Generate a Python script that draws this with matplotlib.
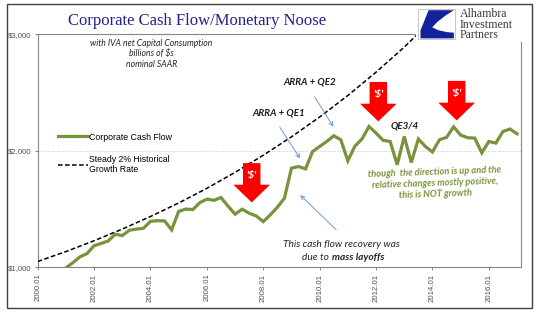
import matplotlib
matplotlib.use("Agg")
import matplotlib.pyplot as plt
from matplotlib.patches import Polygon, Rectangle
import pandas as pd

# Corporate cash flow with IVA net of capital consumption, $bn SAAR, 2000Q1 - 2017Q1
quarters = pd.period_range("2000Q1", "2017Q1", freq="Q")
cash_flow = [930, 920, 915, 950,
             995, 1040, 1090, 1118,
             1185, 1205, 1226, 1284,
             1272, 1318, 1328, 1335,
             1395, 1400, 1398, 1321,
             1480, 1500, 1495, 1555,
             1585, 1575, 1599, 1525,
             1456, 1499, 1464, 1441,
             1392, 1450, 1516, 1593,
             1851, 1865, 1845, 1994,
             2037, 2080, 2129, 2095,
             1914, 2040, 2101, 2209,
             2152, 2090, 2080, 1880,
             2123, 1900, 2101, 2037,
             1990, 2095, 2115, 2206,
             2135, 2112, 2109, 1983,
             2080, 2066, 2166, 2187,
             2146]

# steady growth trend line, read at each January
trend_years = [2000, 2001, 2002, 2003, 2004, 2005, 2006, 2007,
               2008, 2009, 2010, 2011, 2012, 2013, 2014]
trend_values = [1050, 1135, 1228, 1328, 1436, 1552, 1678, 1815,
                1962, 2120, 2290, 2475, 2675, 2890, 3125]

tick_labels = ["2000.01", "2002.01", "2004.01", "2006.01", "2008.01",
               "2010.01", "2012.01", "2014.01", "2016.01"]
y_ticks = [1000, 2000, 3000]

# red "$" arrows: centre year, top, head start, tip
red_arrows = [(2007.59, 1894, 1709, 1557),
              (2012.08, 2591, 2404, 2253),
              (2014.86, 2600, 2413, 2261)]

GREEN = "#77933C"
BLUE_TXT = "#23238E"
GRAY = "#868686"

x_q = [p.year + (p.quarter - 1) / 4 for p in quarters]

fig = plt.figure(figsize=(5.4, 3.21), dpi=100)
W, H = 540, 321
ax = fig.add_axes([37.7 / W, 1 - 267.3 / H, (520.7 - 37.7) / W, (267.3 - 34.3) / H])

ax.plot(x_q, cash_flow, color=GREEN, lw=2.3, solid_joinstyle="miter",
        label="Corporate Cash Flow", zorder=4)
ax.plot(trend_years, trend_values, color="black", lw=1.1, ls=(0, (3, 1.6)),
        label="Steady 2% Historical\nGrowth Rate", zorder=3)

ax.set_xlim(2000, 2017.13)
ax.set_ylim(1000, 3000)
ax.set_xticks([int(t[:4]) for t in tick_labels])
ax.set_xticklabels(tick_labels, rotation=90, family="Liberation Sans",
                   fontsize=5.6, color="#505050")
ax.set_yticks(y_ticks)
ax.set_yticklabels(["${:,.0f}".format(v) for v in y_ticks],
                   family="Liberation Sans", fontsize=5.6, color="#505050")
ax.tick_params(axis="both", direction="out", length=2.3, width=0.7,
               color=GRAY, pad=2.2)
ax.axhline(2000, color="#C8C8C8", lw=0.7, ls=(0, (1, 1.5)), zorder=1)
for s in ax.spines.values():
    s.set_color(GRAY)
    s.set_linewidth(0.8)

leg = ax.legend(loc="upper left", bbox_to_anchor=(58 / W, 1 - 132.5 / H),
                bbox_transform=fig.transFigure, frameon=False,
                prop={"family": "Liberation Sans", "size": 6.3},
                handlelength=3.4, handletextpad=0.15, labelspacing=1.5,
                borderpad=0, borderaxespad=0)

# red arrows
for cx, top, head, tip in red_arrows:
    sw, hw = 0.31, 0.65
    pts = [(cx - sw, top), (cx + sw, top), (cx + sw, head), (cx + hw, head),
           (cx, tip), (cx - hw, head), (cx - sw, head)]
    ax.add_patch(Polygon(pts, closed=True, color="#FF0000", lw=0, zorder=6))
    ax.text(cx, (top + head) / 2 - 12, "'$'", color="white", fontsize=7.5,
            family="Lato", weight="bold", style="italic",
            ha="center", va="center", zorder=7)

sans = "Lato"
ax.text(2004.04, 2834, "with IVA net Capital Consumption\nbillions of $s\nnominal SAAR",
        ha="center", va="center", fontsize=6.2, style="italic", family=sans,
        color="#262626", linespacing=1.2)
ax.text(2009.66, 2588, "ARRA + QE2", ha="center", va="center", fontsize=7,
        style="italic", weight="bold", family=sans, color="#1a1a1a")
ax.text(2008.56, 2324, "ARRA + QE1", ha="center", va="center", fontsize=7,
        style="italic", weight="bold", family=sans, color="#1a1a1a")
ax.text(2013.02, 2209, "QE3/4", ha="center", va="center", fontsize=7,
        style="italic", weight="bold", family=sans, color="#1a1a1a")
ax.text(2010.76, 1198, "This cash flow recovery was", ha="center", va="center",
        fontsize=7.3, style="italic", family=sans, color="#262626")
ax.text(2010.42, 1080, "due to ", ha="right", va="center",
        fontsize=7.3, style="italic", family=sans, color="#262626")
ax.text(2010.42, 1080, "mass layoffs", ha="left", va="center",
        fontsize=7.3, style="italic", weight="bold", family=sans, color="#262626")
ax.text(2014.09, 1721,
        "though  the direction is up and the\nrelative changes mostly positive,\nthis is NOT growth",
        ha="center", va="center", fontsize=6.7, style="italic", weight="bold",
        family=sans, color=GREEN, rotation=2, linespacing=1.25,
        rotation_mode="anchor")

arrow_kw = dict(arrowstyle="->", color="#6A9BD8", lw=0.7, mutation_scale=7)
ax.annotate("", xy=(2010.54, 2187), xytext=(2009.77, 2482), arrowprops=arrow_kw)
ax.annotate("", xy=(2009.36, 1914), xytext=(2008.53, 2224), arrowprops=arrow_kw)
ax.annotate("", xy=(2009.24, 1636), xytext=(2010.66, 1306), arrowprops=arrow_kw)

# title
fig.text(197 / W, 1 - 25.3 / H, "Corporate Cash Flow/Monetary Noose",
         ha="center", va="baseline", family="Liberation Serif", fontsize=12,
         color=BLUE_TXT)

# logo area
fig.patches.append(Rectangle((416 / W, 1 - 41 / H), 109 / W, 35 / H,
                             transform=fig.transFigure, color="white", zorder=5))
ix, iy, iw, ih = 418.3 / W, 1 - 39.3 / H, 36.7 / W, 30 / H
fig.patches.append(Rectangle((ix, iy), iw, ih, transform=fig.transFigure,
                             facecolor="white", edgecolor="#BFBFBF", lw=0.6, zorder=6))
shape = [(0.28, 0.97), (0.97, 0.97), (0.75, 0.80), (0.52, 0.58), (0.38, 0.40),
         (0.55, 0.30), (0.78, 0.24), (0.97, 0.22), (0.97, 0.03), (0.06, 0.03),
         (0.06, 0.30)]
fig.patches.append(Polygon([(ix + u * iw, iy + v * ih) for u, v in shape],
                           closed=True, transform=fig.transFigure,
                           color="#14219A", lw=0, zorder=7))
fig.text(460 / W, 1 - 24.5 / H, "Alhambra\nInvestment\nPartners", ha="left",
         va="center", family="Liberation Serif", fontsize=8.6, linespacing=0.82,
         color="#3a3a3a", zorder=8)

# outer frame
fig.patches.append(Rectangle((6.7 / W, 1 - 307.7 / H), 525 / W, 303.7 / H,
                             transform=fig.transFigure, fill=False,
                             edgecolor="#404040", lw=1.0, zorder=9))

fig.savefig("out.png", dpi=100)
